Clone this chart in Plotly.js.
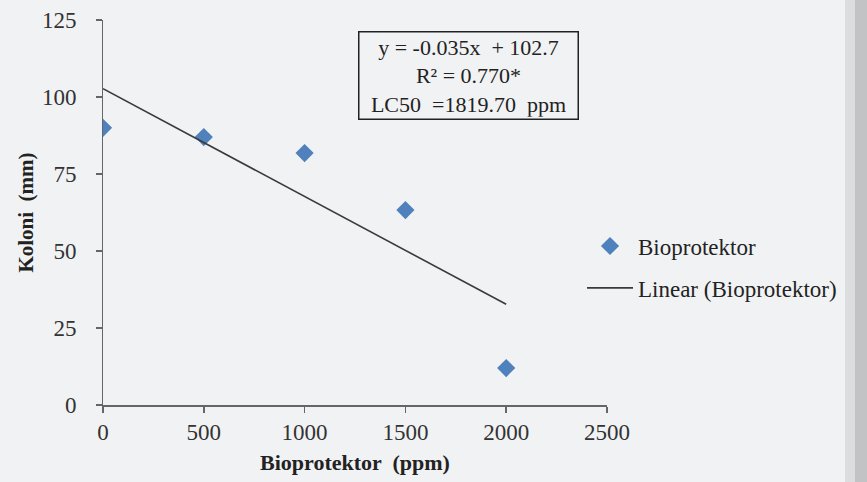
<!DOCTYPE html>
<html>
<head>
<meta charset="utf-8">
<script src="https://cdn.plot.ly/plotly-3.0.1.min.js"></script>
<style>html,body{margin:0;padding:0;background:#f1f2f4;}#chart{width:867px;height:482px;}</style>
</head>
<body>
<div id="chart"></div>
<script>
// Data
const concentrations = [0, 500, 1000, 1500, 2000];
const koloni = [90, 87, 81.8, 63.3, 12];
const trendSlope = -0.035;
const trendIntercept = 102.7;
const trendRange = [0, 2000];
const xTicks = [0, 500, 1000, 1500, 2000, 2500];
const yTicks = [0, 25, 50, 75, 100, 125];
const yRange = [0, 125];
const equationLines = ["y = -0.035x  + 102.7", "R² = 0.770*", "LC50  =1819.70  ppm"];
const seriesName = "Bioprotektor";
const trendName = "Linear (Bioprotektor)";
const xTitle = "Bioprotektor  (ppm)";
const yTitle = "Koloni  (mm)";

const trendY = trendRange.map(x => trendSlope * x + trendIntercept);
const font = "Liberation Serif, serif";

const traces = [
  {
    x: concentrations, y: koloni, type: "scatter", mode: "markers", name: seriesName,
    legendgroup: "a",
    marker: {symbol: "diamond", size: 14, color: "#4f81bd"}
  },
  {
    x: trendRange, y: trendY, type: "scatter", mode: "lines", name: trendName,
    legendgroup: "b",
    line: {color: "#3a3a3a", width: 1.6}
  },
  {
    // carrier for the tick-label axis (invisible)
    x: concentrations, y: koloni, type: "scatter", mode: "markers", yaxis: "y2",
    marker: {opacity: 0}, showlegend: false, hoverinfo: "skip"
  }
];

const layout = {
  width: 867, height: 482,
  paper_bgcolor: "#f1f2f4", plot_bgcolor: "#f1f2f4",
  margin: {l: 87, r: 260, t: 20, b: 77, autoexpand: false},
  font: {family: font, size: 23, color: "#333"},
  xaxis: {
    domain: [0.03077, 1],
    range: [0, 2500], tickvals: xTicks, ticktext: xTicks.map(String),
    showgrid: false, zeroline: false, showline: true, linecolor: "#666", linewidth: 1.5,
    ticks: "outside", ticklen: 6, tickcolor: "#666", tickwidth: 1.5,
    automargin: false,
    tickfont: {family: font, size: 23, color: "#333"},
    title: {text: "<b>" + xTitle + "</b>", font: {family: font, size: 22, color: "#222"}, standoff: 10}
  },
  yaxis: {
    anchor: "x",
    range: yRange, tickvals: yTicks, showticklabels: false,
    showgrid: false, zeroline: false, showline: true, linecolor: "#666", linewidth: 1.5,
    ticks: "outside", ticklen: 6, tickcolor: "#666", tickwidth: 1.5,
    automargin: false,
    title: {text: "<b>" + yTitle + "</b>", font: {family: font, size: 21, color: "#222"}, standoff: 56}
  },
  yaxis2: {
    overlaying: "y", side: "left", anchor: "free", position: 0,
    range: yRange, tickvals: yTicks, ticktext: yTicks.map(String),
    showgrid: false, zeroline: false, showline: false,
    ticks: "outside", ticklen: 6, tickcolor: "rgba(0,0,0,0)",
    automargin: false,
    tickfont: {family: font, size: 23, color: "#333"}
  },
  showlegend: true,
  legend: {
    xref: "container", yref: "container",
    x: 0.6713, y: 0.446, xanchor: "left", yanchor: "middle",
    bgcolor: "rgba(0,0,0,0)", traceorder: "grouped", tracegroupgap: 9,
    itemwidth: 46,
    font: {family: font, size: 23, color: "#222"}
  },
  annotations: [{
    xref: "paper", yref: "paper", x: 0.7337, y: 0.856, xanchor: "center", yanchor: "middle",
    text: equationLines.join("<br>"), showarrow: false, align: "center",
    font: {family: font, size: 22, color: "#222"},
    bordercolor: "#222", borderwidth: 1.5, borderpad: 2, width: 214, bgcolor: "#f1f2f4"
  }],
  shapes: [
    {type: "rect", xref: "paper", yref: "paper", x0: 1.4577, x1: 1.4769, y0: -0.25, y1: 1.1,
     fillcolor: "#dcdddf", line: {width: 0}, layer: "above"},
    {type: "rect", xref: "paper", yref: "paper", x0: 1.4769, x1: 1.55, y0: -0.25, y1: 1.1,
     fillcolor: "#c2c3c5", line: {width: 0}, layer: "above"}
  ]
};

Plotly.newPlot("chart", traces, layout, {displayModeBar: false, staticPlot: true});
</script>
</body>
</html>
